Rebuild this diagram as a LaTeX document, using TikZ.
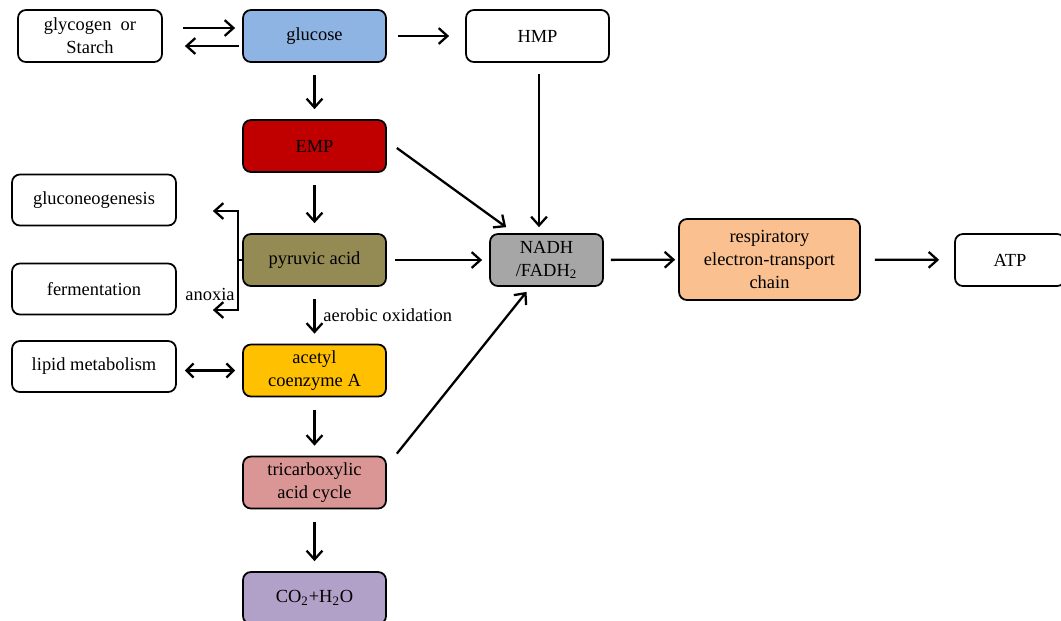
\documentclass[tikz,border=0pt]{standalone}
\usepackage{fontspec}
\setmainfont{Liberation Serif}
\usetikzlibrary{arrows.meta, calc}
\definecolor{glucoseblue}{HTML}{8DB4E2}
\definecolor{empred}{HTML}{C00000}
\definecolor{pyruvicolive}{HTML}{948A54}
\definecolor{nadhgray}{HTML}{A6A6A6}
\definecolor{chainorange}{HTML}{FAC090}
\definecolor{acetylyellow}{HTML}{FFC000}
\definecolor{tcapink}{HTML}{DA9694}
\definecolor{copurple}{HTML}{B1A0C7}
\tikzset{
  box/.style={
    rectangle, rounded corners=4.5pt, minimum width=2.86cm, minimum height=1.04cm,
    text centered, align=center, draw=black, line width=1pt, fill=white,
    font=\fontsize{10.5}{13}\selectfont, inner sep=1pt
  },
  sidebox/.style={
    box, minimum width=3.28cm, minimum height=1.02cm
  },
  arrow/.style={
    -{Straight Barb[length=5pt,width=9pt]}, line width=1.3pt
  },
  twoway/.style={
    {Straight Barb[length=4pt,width=8pt]}-{Straight Barb[length=4pt,width=8pt]}, line width=1.3pt
  },
  vgap/.style={
    shorten <=0.25cm, shorten >=0.2cm
  },
  label/.style={
    font=\fontsize{10.5}{13}\selectfont, inner sep=1pt
  }
}

\begin{document}
\begin{tikzpicture}[x=0.02cm, y=-0.02cm]
\useasboundingbox (0,0) rectangle (1061,620);
% main line
\node[box, fill=glucoseblue] (glucose) at (314.5,36) {glucose};
\node[box, fill=empred] (EMP) at (314.5,146) {EMP};
\node[box, fill=pyruvicolive] (pyruvic) at (314.5,260) {pyruvic acid};
\node[box, fill=acetylyellow] (acetyl) at (314.5,370.5) {acetyl\\coenzyme A};
\node[box, fill=tcapink] (TCA) at (314.5,482.5) {tricarboxylic\\acid cycle};
\node[box, fill=copurple] (CO2) at (314.5,598) {CO\textsubscript{2}+H\textsubscript{2}O};
% side boxes
\node[sidebox, minimum width=2.88cm, minimum height=1.04cm] (glycogen) at (90,36) {glycogen\ \ or\\Starch};
\node[sidebox] (gluconeo) at (94,200) {gluconeogenesis};
\node[sidebox] (fermentation) at (94,289) {fermentation};
\node[sidebox] (lipid) at (94,366.5) {lipid metabolism};
% right part
\node[box] (HMP) at (537.5,36) {HMP};
\node[box, fill=nadhgray, minimum width=2.26cm] (NADH) at (546.5,260) {NADH\\/FADH\textsubscript{2}};
\node[box, fill=chainorange, minimum width=3.62cm, minimum height=1.62cm] (chain) at (769.5,259.5) {respiratory\\electron-transport\\chain};
\node[box, minimum width=2.2cm] (ATP) at (1010,260) {ATP};
\node[label] (anoxia) at (210,294) {anoxia};

% arrows
\draw[arrow] ($(glycogen.east)+(20,-8)$) -- ($(glucose.west)+(-7,-8)$);
\draw[arrow] ($(glucose.west)+(-3,10)$) -- ($(glycogen.east)+(22,10)$);
\draw[arrow, shorten <=0.22cm, shorten >=0.32cm] (glucose) -- (HMP);
\draw[arrow, vgap] (glucose) -- (EMP);
\draw[arrow, vgap] (EMP) -- (pyruvic);
\draw[arrow, vgap] (pyruvic) -- node[label, right, xshift=1.2mm] {aerobic oxidation} (acetyl);
\draw[arrow, vgap] (acetyl) -- (TCA);
\draw[arrow, vgap] (TCA) -- (CO2);
\draw[twoway, shorten <=0.16cm, shorten >=0.14cm] (lipid.east |- acetyl.west) -- (acetyl.west);
\draw[arrow] ($(HMP.south)+(1.5,11)$) -- ($(HMP.south |- NADH.north)+(1.5,-6)$);
\draw[arrow] ($(EMP.east)+(10,2)$) -- ($(NADH.north west)+(17,-6)$);
\draw[arrow] ($(TCA.north east)+(10,-2)$) -- ($(NADH.south)+(-20,5)$);
\draw[arrow, shorten <=0.16cm, shorten >=0.14cm] (pyruvic) -- (NADH);
\draw[arrow, shorten <=0.14cm, shorten >=0.06cm] (NADH) -- (chain);
\draw[arrow, shorten <=0.28cm, shorten >=0.3cm] (chain) -- (ATP);
% anoxia fork
\coordinate (fork) at ($(pyruvic.west)+(-4,0)$);
\coordinate (toGluco) at ($(gluconeo.east)+(36,11)$);
\coordinate (toFerm) at ($(fermentation.east)+(36,21)$);
\draw[line width=1.3pt] (pyruvic.west) -- (fork);
\draw[arrow] (fork) |- (toGluco);
\draw[arrow] (fork) |- (toFerm);
\end{tikzpicture}
\end{document}
